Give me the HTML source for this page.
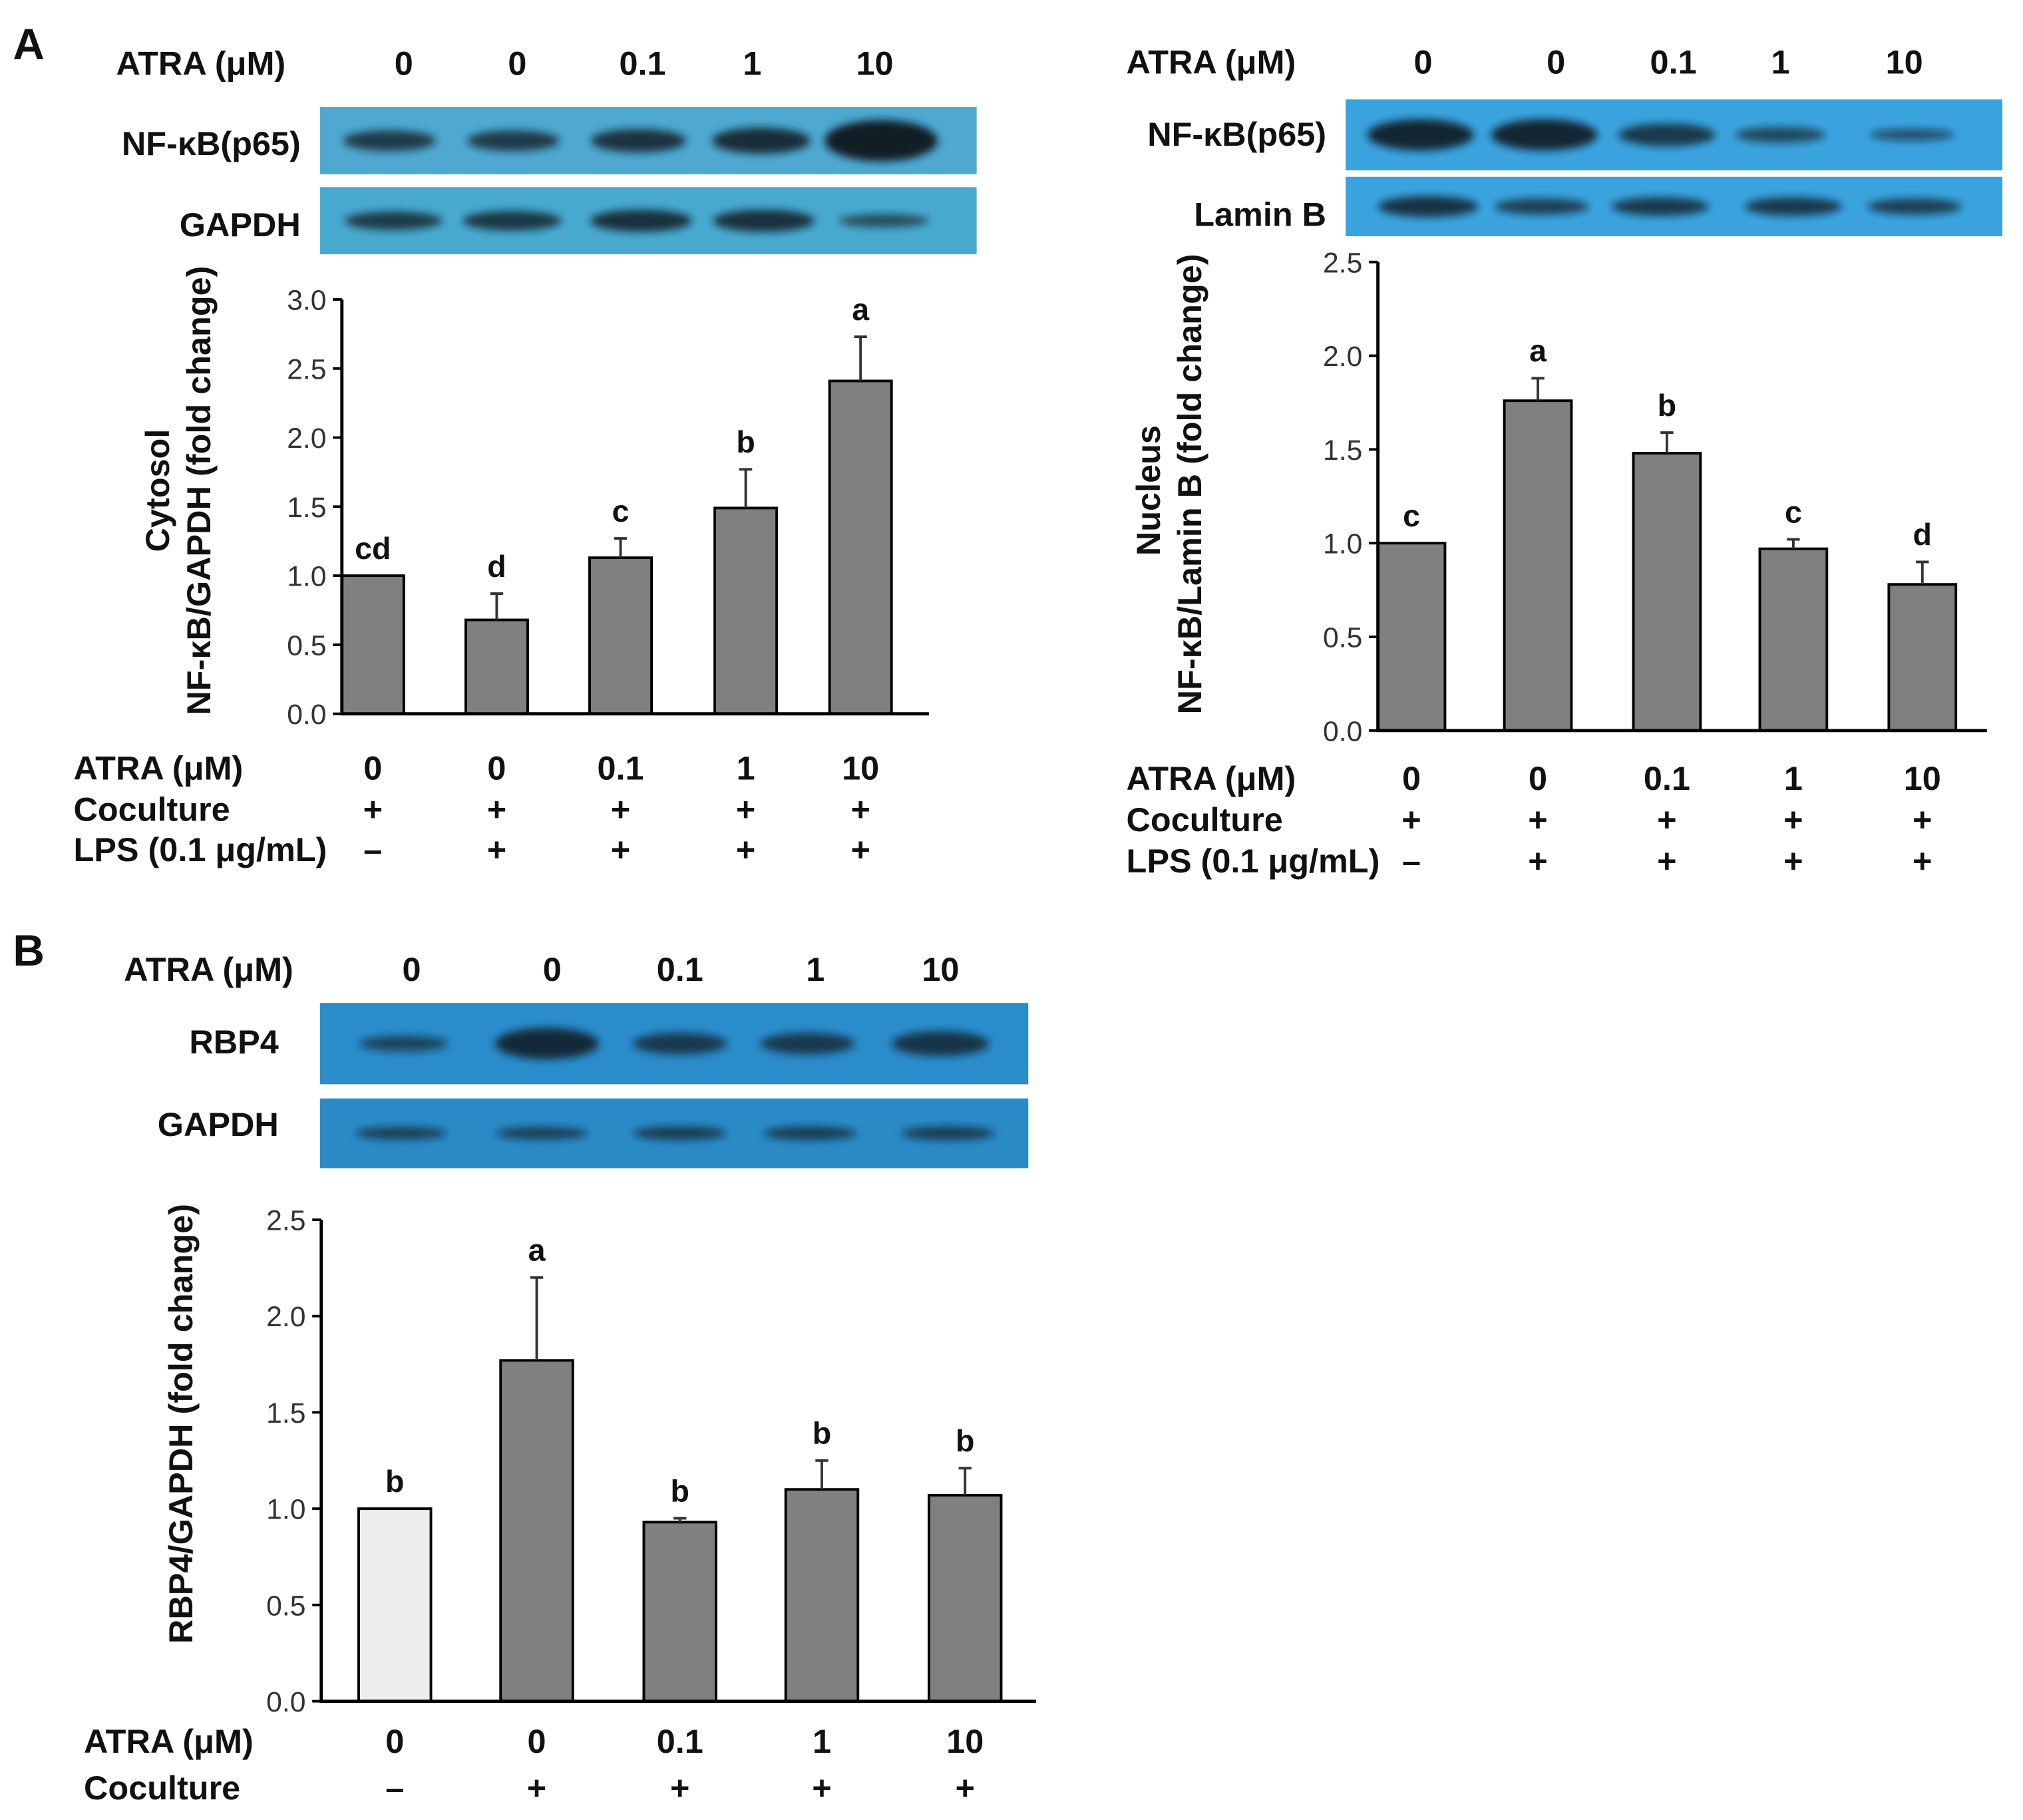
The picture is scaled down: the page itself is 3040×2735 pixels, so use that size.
<!DOCTYPE html>
<html><head><meta charset="utf-8"><style>
html,body{margin:0;padding:0;background:#fff;}
svg{display:block;}
text{font-family:"Liberation Sans",sans-serif;}
.b{font-weight:bold;fill:#111;}
.t{fill:#333;font-size:22px;}
</style></head><body>
<svg id="fig" width="3040" height="2735" viewBox="0 0 1568 1410" preserveAspectRatio="none" xmlns="http://www.w3.org/2000/svg">
<defs><filter id="blur" x="-30%" y="-80%" width="160%" height="260%"><feGaussianBlur stdDeviation="3"/></filter></defs>
<g id="root"></g>
</svg>
<script>
// Data
const doseLabels = ["0","0","0.1","1","10"];
const cytoValues = [1.0, 0.68, 1.13, 1.49, 2.41];
const cytoErrors = [0, 0.19, 0.14, 0.28, 0.32];
const cytoLetters = ["cd","d","c","b","a"];
const cytoTicks = ["0.0","0.5","1.0","1.5","2.0","2.5","3.0"];
const nucValues = [1.0, 1.76, 1.48, 0.97, 0.78];
const nucErrors = [0, 0.12, 0.11, 0.05, 0.12];
const nucLetters = ["c","a","b","c","d"];
const nucTicks = ["0.0","0.5","1.0","1.5","2.0","2.5"];
const rbpValues = [1.0, 1.77, 0.93, 1.10, 1.07];
const rbpErrors = [0, 0.43, 0.02, 0.15, 0.14];
const rbpLetters = ["b","a","b","b","b"];
const rbpTicks = ["0.0","0.5","1.0","1.5","2.0","2.5"];
const coculture = ["+","+","+","+","+"];
const lpsA = ["\u2013","+","+","+","+"];
const cocultureB = ["\u2013","+","+","+","+"];
// band intensities
const bandCytoNF = [0.8,0.8,0.9,1.0,1.6];
const bandCytoG = [0.8,0.85,0.95,0.95,0.55];
const bandNucNF = [1.1,1.1,0.8,0.55,0.4];
const bandNucL = [0.9,0.7,0.8,0.8,0.7];
const bandRBP = [0.5,1.0,0.7,0.7,0.8];
const bandRG = [0.6,0.6,0.65,0.65,0.65];

const NS="http://www.w3.org/2000/svg";
const root=document.getElementById('root');
const LBL=26;
function el(tag,attrs,parent){const e=document.createElementNS(NS,tag);for(const k in attrs)e.setAttribute(k,attrs[k]);(parent||root).appendChild(e);return e;}
function txt(x,y,s,cls,size,anchor,parent){const t=el('text',{x:x,y:y,'class':cls,'font-size':size,'text-anchor':anchor||'middle'},parent);t.textContent=s;return t;}

function blot(name,x,y,w,h,color,centers,bands,bw,bh){
  const g=el('g',{});
  
  
  el('rect',{x:x,y:y,width:w,height:h,fill:color},g);
  bands.forEach((b,i)=>{
    const e=el('ellipse',{cx:centers[i],cy:y+h/2,rx:bw*Math.min(1.15,0.7+b*0.3),ry:bh*b,fill:'#101820','fill-opacity':Math.min(0.95,0.45+b*0.4),filter:'url(#blur)'},g);
    
    
  });
}

function chart(name,x0,x1,y0,yTop,maxV,ticks,centers,bw,vals,errs,letters,fills){
  const g=el('g',{});
  
  
  const ys=v=>y0-(v/maxV)*(y0-yTop);
  vals.forEach((v,i)=>{
    const r=el('rect',{x:centers[i]-bw/2,y:ys(v),width:bw,height:y0-ys(v),fill:fills?fills[i]:'#808080',stroke:'#000','stroke-width':2},g);
    
    
    const ye=ys(v+errs[i]);
    if(errs[i]>0){
      const l=el('path',{d:`M${centers[i]},${ys(v)}V${ye}M${centers[i]-5},${ye}H${centers[i]+5}`,stroke:'#333','stroke-width':2,fill:'none'},g);
      
      
    }
    const t=txt(centers[i],ye-13,letters[i],'b',24,'middle',g);
    
    
  });
  const ax=el('path',{d:`M${x0},${yTop}V${y0}H${x1}`,stroke:'#000','stroke-width':2.5,fill:'none'},g);
  
  
  ticks.forEach((s,i)=>{
    const v=parseFloat(s);const y=ys(v);
    el('line',{x1:x0-7,x2:x0,y1:y,y2:y,stroke:'#000','stroke-width':2},g);
    const t=txt(x0-12,y+8,s,'t',22,'end',g);
    
    
  });
}

function rowLabels(name,labelX,valsX,y,label,vals,size){
  const g=el('g',{});
  
  
  txt(labelX,y,label,'b',size||LBL,'start',g);
  vals.forEach((v,i)=>txt(valsX[i],y,v,'b',size||LBL,'middle',g));
}

let t=txt(10,46,'A','b',34,'start');
t=txt(10,748,'B','b',34,'start');

// ---------- Panel A left ----------
const cL=[289,385,481,578,667];
rowLabels('atra-header-cytosol',90,[313,401,498,583,678],58,'ATRA (\u03bcM)',doseLabels);
txt(233,120,'NF-\u03baB(p65)','b',LBL,'end');
txt(233,183,'GAPDH','b',LBL,'end');
blot('nfkb-cytosol-blot',248,83,509,52,'#4ea8d0',[302,398,495,590,683],bandCytoNF,38,10);
blot('gapdh-cytosol-blot',248,145,509,52,'#48a9cf',[305,397,497,592,685],bandCytoG,40,9);
chart('cytosol-chart',265,720,553,232,3.0,cytoTicks,cL,48,cytoValues,cytoErrors,cytoLetters);
let yl=el('text',{transform:'translate(131,380) rotate(-90)','class':'b','font-size':LBL,'text-anchor':'middle'});yl.textContent='Cytosol';

yl=el('text',{transform:'translate(163,380) rotate(-90)','class':'b','font-size':LBL,'text-anchor':'middle'});yl.textContent='NF-\u03baB/GAPDH (fold change)';
rowLabels('atra-row-cytosol',57,cL,604,'ATRA (\u03bcM)',doseLabels);
rowLabels('coculture-row-cytosol',57,cL,636,'Coculture',coculture);
rowLabels('lps-row-cytosol',57,cL,667,'LPS (0.1 \u03bcg/mL)',lpsA);

// ---------- Panel A right ----------
const cR=[1094,1192,1292,1390,1490];
rowLabels('atra-header-nucleus',873,[1103,1206,1297,1380,1476],57,'ATRA (\u03bcM)',doseLabels);
txt(1028,113,'NF-\u03baB(p65)','b',LBL,'end');
txt(1028,175,'Lamin B','b',LBL,'end');
blot('nfkb-nucleus-blot',1043,77,509,55,'#3aa3de',[1101,1197,1292,1380,1482],bandNucNF,40,11);
blot('laminb-nucleus-blot',1043,137,509,46,'#3aa3de',[1107,1195,1287,1390,1484],bandNucL,40,9);
chart('nucleus-chart',1068,1540,566,203,2.5,nucTicks,cR,52,nucValues,nucErrors,nucLetters);
yl=el('text',{transform:'translate(899,380) rotate(-90)','class':'b','font-size':LBL,'text-anchor':'middle'});yl.textContent='Nucleus';

yl=el('text',{transform:'translate(931,375) rotate(-90)','class':'b','font-size':LBL,'text-anchor':'middle'});yl.textContent='NF-\u03baB/Lamin B (fold change)';
rowLabels('atra-row-nucleus',873,cR,612,'ATRA (\u03bcM)',doseLabels);
rowLabels('coculture-row-nucleus',873,cR,644,'Coculture',coculture);
rowLabels('lps-row-nucleus',873,cR,676,'LPS (0.1 \u03bcg/mL)',lpsA);

// ---------- Panel B ----------
const cB=[306,416,527,637,748];
rowLabels('atra-header-rbp4',96,[319,428,527,632,729],760,'ATRA (\u03bcM)',doseLabels);
txt(216,816,'RBP4','b',LBL,'end');
txt(216,880,'GAPDH','b',LBL,'end');
blot('rbp4-blot',248,777,549,63,'#2a8ccb',[313,424,527,626,729],bandRBP,40,12);
blot('gapdh-rbp4-blot',248,851,549,54,'#2a8ac6',[311,420,527,628,735],bandRG,40,8);
chart('rbp4-chart',249,803,1318,945,2.5,rbpTicks,cB,56,rbpValues,rbpErrors,rbpLetters,['#eeeeee','#808080','#808080','#808080','#808080']);
yl=el('text',{transform:'translate(149,1103) rotate(-90)','class':'b','font-size':LBL,'text-anchor':'middle'});yl.textContent='RBP4/GAPDH (fold change)';

rowLabels('atra-row-rbp4',65,cB,1358,'ATRA (\u03bcM)',doseLabels,LBL);
rowLabels('coculture-row-rbp4',65,cB,1394,'Coculture',cocultureB,LBL);
</script>
</body></html>
